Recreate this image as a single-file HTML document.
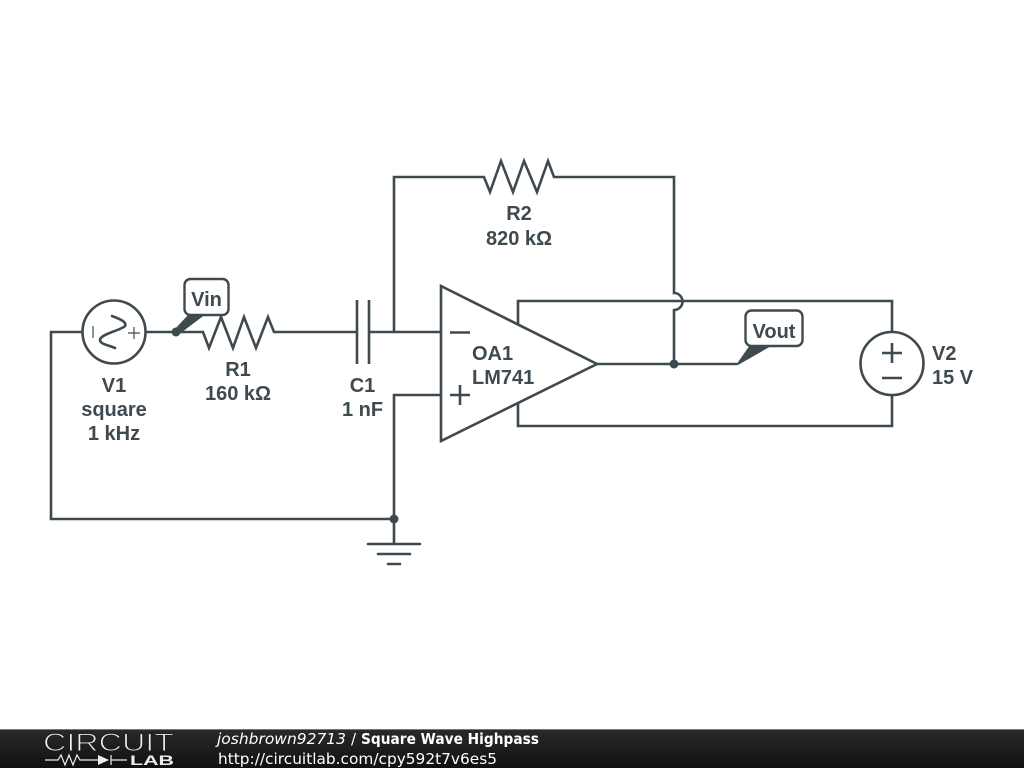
<!DOCTYPE html>
<html><head><meta charset="utf-8"><style>
html,body{margin:0;padding:0;background:#fff;width:1024px;height:768px;overflow:hidden}
svg{display:block}
.w{fill:none;stroke:#3f4a50;stroke-width:2.6;stroke-linejoin:miter}
.t{font-family:"Liberation Sans",sans-serif;font-weight:bold;font-size:20px;fill:#3f4a50;text-anchor:middle}
.l{text-anchor:start}
.f{font-family:"DejaVu Sans",sans-serif;font-size:15px;fill:#fff}
</style></head><body>
<svg width="1024" height="768" viewBox="0 0 1024 768" xmlns="http://www.w3.org/2000/svg">
<defs><linearGradient id="g" x1="0" y1="0" x2="0" y2="1"><stop offset="0" stop-color="#2a2a2a"/><stop offset="1" stop-color="#101010"/></linearGradient></defs>
<rect width="1024" height="768" fill="#fff"/>
<!-- wires -->
<path class="w" d="M82 332H51V519H394"/>
<path class="w" d="M145 332H203L209 348L221 317L233 348L244 317L256 348L268 317L274 332H357"/>
<path class="w" d="M369 332H441"/>
<path class="w" d="M357 300V364M369 300V364"/>
<path class="w" d="M394 332V177H484L490 192L501 161L513 192L524 161L537 192L548 161L554 177H674V293A8.5 8.5 0 0 1 674 310V364"/>
<path class="w" d="M441 395H394V544"/>
<path class="w" d="M368 544H420M378 554H410M388 564H400" stroke-linecap="round"/>
<circle cx="394" cy="519" r="4.5" fill="#3f4a50"/>
<!-- opamp -->
<path class="w" d="M441 286L597 364L441 441Z"/>
<path class="w" d="M450 332.500H470M450 395H470M460 385V405"/>
<path class="w" d="M518 324V301H892V332M518 403V426H892V395"/>
<path class="w" d="M597 364H737"/>
<circle cx="674" cy="364" r="4.5" fill="#3f4a50"/>
<!-- V1 -->
<circle class="w" cx="114" cy="332" r="31.5"/>
<path d="M93 326V338M128 333H140M134 327V339" fill="none" stroke="#3f4a50" stroke-width="1.2"/>
<path class="w" d="M112 316C120 319 127 322 125 326C122 330 100 334 100 340C100 344 108 345 115 348" stroke-linecap="round"/>
<!-- V2 -->
<circle class="w" cx="892" cy="363.500" r="31.5"/>
<path class="w" d="M882 353H902M892 343V363M882 378H902"/>
<!-- probes -->
<circle cx="176" cy="332" r="4.5" fill="#3f4a50"/>
<path d="M174 330L189 314H206L178 335Z" fill="#3f4a50"/>
<rect x="184.500" y="279" width="44" height="36" rx="6" fill="#fff" stroke="#3f4a50" stroke-width="2.400"/>
<text class="t" x="206.500" y="306">Vin</text>
<path d="M736 365L750 345H773L738 365Z" fill="#3f4a50"/>
<rect x="745.500" y="310.500" width="57" height="35.500" rx="6" fill="#fff" stroke="#3f4a50" stroke-width="2.400"/>
<text class="t" x="774" y="338">Vout</text>
<!-- labels -->
<text class="t" x="114" y="392">V1</text>
<text class="t" x="114" y="416">square</text>
<text class="t" x="114" y="440">1 kHz</text>
<text class="t" x="238" y="376">R1</text>
<text class="t" x="238" y="400">160 kΩ</text>
<text class="t" x="362.500" y="392">C1</text>
<text class="t" x="362.500" y="416">1 nF</text>
<text class="t" x="519" y="220">R2</text>
<text class="t" x="519" y="245">820 kΩ</text>
<text class="t l" x="472" y="360">OA1</text>
<text class="t l" x="472" y="384">LM741</text>
<text class="t l" x="932" y="360">V2</text>
<text class="t l" x="932" y="384">15 V</text>
<!-- footer -->
<rect x="0" y="729" width="1024" height="39" fill="url(#g)"/>
<rect x="0" y="729" width="1024" height="1" fill="#777"/>
<text x="43" y="751" font-family="Liberation Sans,sans-serif" font-size="25" fill="#eee" stroke="#1e1e1e" stroke-width="1" textLength="131" lengthAdjust="spacingAndGlyphs">CIRCUIT</text>
<path d="M45 760H58L61 755L65 765L69 755L73 765L77 755L80 760H98M111 755V765M111 760H127" fill="none" stroke="#eee" stroke-width="1.200"/>
<path d="M98 755V765L109 760Z" fill="#eee"/>
<text x="130" y="765" font-family="Liberation Sans,sans-serif" font-weight="bold" font-size="14" fill="#eee" textLength="44" lengthAdjust="spacingAndGlyphs">LAB</text>
<text class="f" x="217" y="744" font-style="italic" textLength="129" lengthAdjust="spacingAndGlyphs">joshbrown92713</text>
<text class="f" x="351" y="744">/</text>
<text class="f" x="361" y="744" font-weight="bold" textLength="178" lengthAdjust="spacingAndGlyphs">Square Wave Highpass</text>
<text class="f" x="218" y="764" textLength="279" lengthAdjust="spacingAndGlyphs">http://circuitlab.com/cpy592t7v6es5</text>
</svg>
</body></html>
